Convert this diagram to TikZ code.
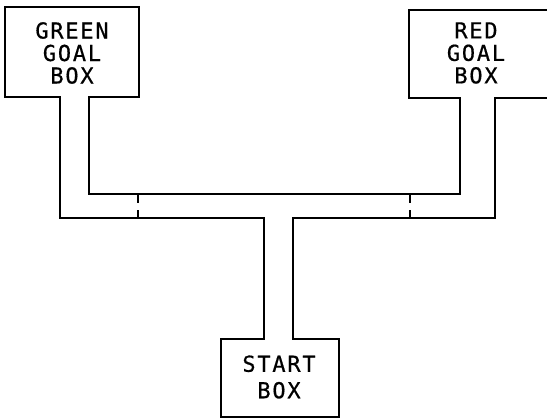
\documentclass[tikz,border=0pt]{standalone}
\usepackage{fontspec}
\newfontfamily\plotfont[LetterSpace=8,FakeBold=0.6]{DejaVu Sans Mono}
\begin{document}
\begin{tikzpicture}[x=1pt,y=-1pt,
  wall/.style={line width=1.6pt,line join=miter,line cap=rect},
  door/.style={line width=1.6pt},
  label/.style={font=\plotfont\fontsize{22}{22.5}\selectfont,align=center,inner sep=0pt}]
\useasboundingbox (0,0) rectangle (547,418);
% green goal box
\draw[wall] (60,97) -- (5,97) -- (5,7) -- (139,7) -- (139,97) -- (89,97);
% red goal box
\draw[wall] (460,98) -- (409,98) -- (409,10) -- (547,10);
\draw[wall] (495,98) -- (547,98);
% corridor outer wall
\draw[wall] (60,97) -- (60,218) -- (264,218) -- (264,339) -- (221,339) -- (221,417)
  -- (339,417) -- (339,339) -- (293,339) -- (293,218) -- (495,218) -- (495,98);
% corridor inner wall
\draw[wall] (89,97) -- (89,194) -- (460,194) -- (460,98);
% doors
\draw[door] (138,194) -- (138,203) (138,210) -- (138,218);
\draw[door] (410,194) -- (410,203) (410,210) -- (410,218);
% labels
\node[label] (green) at (72,53) {GREEN\\GOAL\\BOX};
\node[label] (red) at (476,53) {RED\\GOAL\\BOX};
\node[label] (start) at (279,377) {START\\[4pt]BOX};
\end{tikzpicture}
\end{document}
